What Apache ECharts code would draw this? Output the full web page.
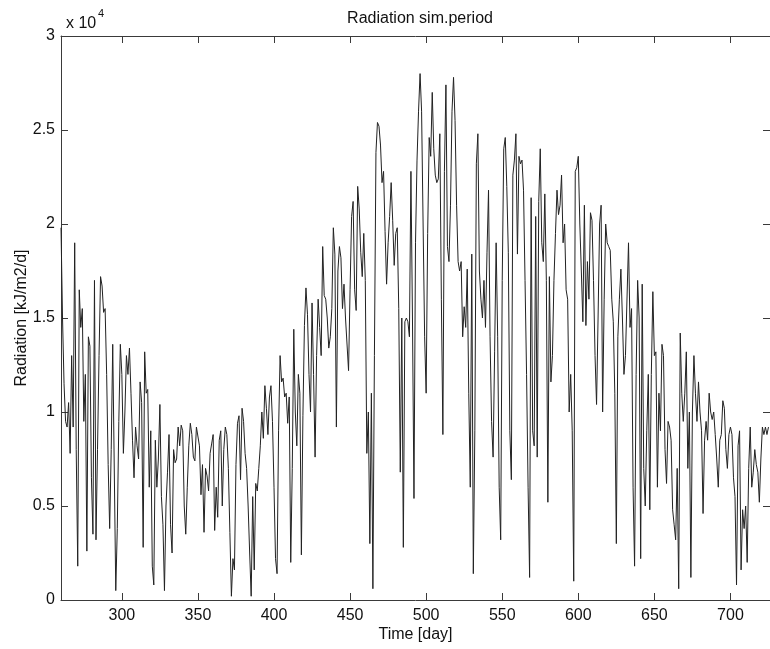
<!DOCTYPE html>
<html>
<head>
<meta charset="utf-8">
<script src="https://cdn.jsdelivr.net/npm/echarts@6/dist/echarts.min.js"></script>
<style>
html,body{margin:0;padding:0;background:#fff;}
#chart{width:770px;height:649px;}
</style>
</head>
<body>
<div id="chart"></div>
<script>
// ---- data ----
const firstDay = 260;
const radiation = [
19800,15000,11500,9500,9200,10500,7800,13000,9200,19000,
8000,1800,16500,14500,15500,9500,12000,2600,14000,13500,
6500,3500,17000,3200,8000,13000,17200,16700,15300,15500,
12000,7200,3800,8000,13600,13500,500,3800,9500,13600,
12000,7800,10000,13000,12000,13400,11000,8500,6500,9200,
8200,7500,11600,10500,2800,13200,11000,11200,6000,9000,
1800,800,8500,6000,7500,10400,5500,4000,500,5000,
6800,8800,4000,2500,8000,7300,7500,9200,8200,9300,
9000,5000,3500,6000,8200,9400,8800,7600,7400,9200,
9200,8200,5600,7200,3600,7000,6600,5800,7800,8300,
8800,3700,6000,4400,8500,9000,5000,8000,9200,8800,
7000,3600,200,2200,1600,7200,9400,9800,6400,10200,
9500,7800,7000,5000,2500,200,5500,1600,6200,5800,
7000,8200,10000,8600,11400,10200,8800,10800,11400,9500,
6000,2200,1400,9000,13000,11600,11800,10800,11000,9400,
10800,2000,7000,14400,10000,8200,12000,11000,2400,9800,
14600,16600,15200,12000,10000,15800,12000,7600,13000,16000,
14500,13000,18800,16200,16000,15000,13400,14000,15500,19800,
18400,9200,17500,18800,18200,15500,16800,15000,15000,12200,
16500,20400,21200,16500,15400,22000,20800,18500,17200,19500,
17000,7800,10000,3000,11000,600,13000,23800,25400,25200,
24200,22200,22800,19600,16800,19000,20400,22200,20200,17800,
19500,19800,15500,6800,15000,2800,14800,15000,14800,14000,
22800,15000,5400,19000,23400,26000,28000,26000,20000,14000,
11000,19500,24600,23600,27000,24000,22600,22200,22400,24800,
16000,8800,22800,27400,18800,18000,21000,26000,27800,25500,
21000,18000,17500,18000,14000,15600,14500,17600,11000,6000,
18400,1400,9000,23200,24800,17500,16000,15000,17000,14500,
18500,21800,14000,9500,7600,13200,19000,14000,6000,3200,
17000,24000,24600,22000,18500,9000,6400,22600,23400,24800,
18400,23600,23200,23400,21800,17000,12000,6000,1200,21400,
9000,8200,20400,7600,21200,24000,19000,18000,21600,17000,
5200,17200,11600,13000,17000,19500,21800,20500,21000,22600,
19000,20000,16500,16000,10000,12000,9000,1000,22800,23000,
23600,20000,17500,14800,21000,14600,18000,16000,20600,20200,
17000,13000,10400,15000,20000,21000,10000,16000,20000,19000,
18800,18600,16000,14800,11000,3000,14000,16000,17600,15000,
12000,13000,13000,19000,14500,15500,6000,1800,12000,17000,
15000,2200,16800,7000,5000,9000,12000,4800,12000,16400,
13000,13200,6000,11000,9000,13600,13000,8000,6200,9500,
9200,8500,4800,4000,3200,7000,600,14200,11000,9500,
11000,13200,7000,10000,1200,10000,13000,11000,9500,11600,
10000,9000,4600,8500,9500,8500,11000,10000,9600,10000,
8800,7500,6000,8500,8800,10600,10200,8000,7000,8800,
9200,8800,6500,5500,800,8200,9000,1600,4800,3800,
5000,2000,7000,9200,6000,6800,8000,7200,6800,5200,
7500,9200,8800,9200,8800,9200
];
const xTicks = [300, 350, 400, 450, 500, 550, 600, 650, 700];
const yTickValues = [0, 5000, 10000, 15000, 20000, 25000, 30000];
const yTickLabels = ['0', '0.5', '1', '1.5', '2', '2.5', '3'];
const titleText = 'Radiation sim.period';
const xName = 'Time [day]';
const yName = 'Radiation [kJ/m2/d]';
const exponentBase = 'x 10';
const exponentPower = '4';

// ---- chart ----
const seriesData = radiation.map((v, i) => [firstDay + i, v]);
const FONT = '"Liberation Sans", Arial, sans-serif';
const axisColor = '#3a3a3a';
const textColor = '#111';

const chart = echarts.init(document.getElementById('chart'), null, {renderer: 'canvas'});
const baseX = {
  type: 'value', min: 260, max: 726,
  axisLine: {show: true, onZero: false, lineStyle: {color: axisColor, width: 1}},
  axisTick: {show: true, inside: true, length: 7, customValues: xTicks, lineStyle: {color: axisColor}},
  splitLine: {show: false}
};
const baseY = {
  type: 'value', min: 0, max: 30000, interval: 5000,
  axisLine: {show: true, onZero: false, lineStyle: {color: axisColor, width: 1}},
  axisTick: {show: true, inside: true, length: 7, lineStyle: {color: axisColor}},
  splitLine: {show: false}
};
chart.setOption({
  animation: false,
  backgroundColor: '#fff',
  title: {
    text: titleText, left: 415, top: 6, textAlign: 'center',
    textStyle: {fontFamily: FONT, fontSize: 16, fontWeight: 'normal', color: textColor}
  },
  grid: {left: 61, right: -1, top: 36, bottom: 49, containLabel: false},
  xAxis: [
    Object.assign({}, baseX, {
      position: 'bottom',
      name: xName, nameLocation: 'middle', nameGap: 27, nameMoveOverlap: false,
      nameTextStyle: {fontFamily: FONT, fontSize: 16, color: textColor},
      axisLabel: {show: true, customValues: xTicks, margin: 8, fontFamily: FONT, fontSize: 16, color: textColor}
    }),
    Object.assign({}, baseX, {position: 'top', axisLabel: {show: false}})
  ],
  yAxis: [
    Object.assign({}, baseY, {
      position: 'left',
      name: yName, nameLocation: 'middle', nameGap: 39, nameMoveOverlap: false,
      nameTextStyle: {fontFamily: FONT, fontSize: 16, color: textColor, verticalAlign: 'middle'},
      axisLabel: {
        show: true, margin: 6, fontFamily: FONT, fontSize: 16, color: textColor,
        formatter: v => { const k = yTickValues.indexOf(v); return k >= 0 ? yTickLabels[k] : ''; }
      }
    }),
    Object.assign({}, baseY, {position: 'right', axisLabel: {show: false}})
  ],
  graphic: [
    {type: 'text', left: 66, top: 16, style: {text: exponentBase, fontFamily: FONT, fontSize: 16, fill: textColor}},
    {type: 'text', left: 98, top: 8, style: {text: exponentPower, fontFamily: FONT, fontSize: 11, fill: textColor}}
  ],
  series: [{
    type: 'line', data: seriesData, xAxisIndex: 0, yAxisIndex: 0,
    showSymbol: false, symbol: 'none',
    lineStyle: {color: '#222', width: 1},
    silent: true
  }]
});
</script>
</body>
</html>
